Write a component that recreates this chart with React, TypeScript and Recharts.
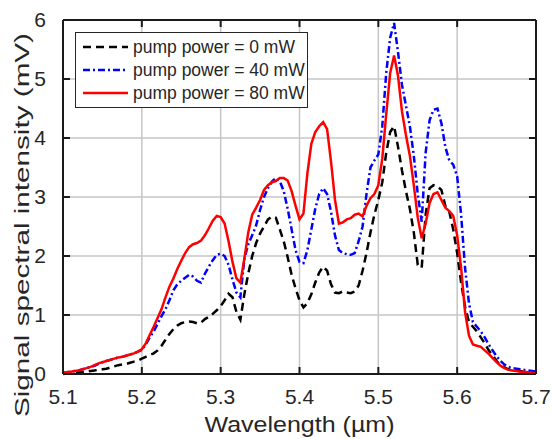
import React from 'react';
import { LineChart, Line, XAxis, YAxis, CartesianGrid, Label } from 'recharts';

const wavelength = [
  5.100, 5.105, 5.110, 5.115, 5.120, 5.125, 5.130, 5.135, 5.140, 5.145,
  5.150, 5.155, 5.160, 5.165, 5.170, 5.175, 5.180, 5.185, 5.190, 5.195,
  5.200, 5.205, 5.210, 5.215, 5.220, 5.225, 5.230, 5.235, 5.240, 5.245,
  5.250, 5.255, 5.260, 5.265, 5.270, 5.275, 5.280, 5.285, 5.290, 5.295,
  5.300, 5.305, 5.310, 5.315, 5.320, 5.325, 5.330, 5.335, 5.340, 5.345,
  5.350, 5.355, 5.360, 5.365, 5.370, 5.375, 5.380, 5.385, 5.390, 5.395,
  5.400, 5.405, 5.410, 5.415, 5.420, 5.425, 5.430, 5.435, 5.440, 5.445,
  5.450, 5.455, 5.460, 5.465, 5.470, 5.475, 5.480, 5.485, 5.490, 5.495,
  5.500, 5.505, 5.510, 5.515, 5.520, 5.525, 5.530, 5.535, 5.540, 5.545,
  5.550, 5.555, 5.560, 5.565, 5.570, 5.575, 5.580, 5.585, 5.590, 5.595,
  5.600, 5.605, 5.610, 5.615, 5.620, 5.625, 5.630, 5.635, 5.640, 5.645,
  5.650, 5.655, 5.660, 5.665, 5.670, 5.675, 5.680, 5.685, 5.690, 5.695,
  5.700,
];

const power0 = [
  0.00, 0.01, 0.01, 0.02, 0.03, 0.03, 0.04, 0.05, 0.06, 0.07,
  0.08, 0.09, 0.11, 0.13, 0.15, 0.16, 0.17, 0.19, 0.21, 0.23,
  0.26, 0.29, 0.32, 0.35, 0.40, 0.48, 0.58, 0.68, 0.76, 0.82,
  0.86, 0.88, 0.89, 0.88, 0.86, 0.87, 0.93, 0.97, 1.02, 1.08,
  1.15, 1.25, 1.36, 1.30, 1.05, 0.92, 1.35, 1.70, 2.00, 2.22,
  2.38, 2.50, 2.62, 2.67, 2.65, 2.45, 2.25, 1.98, 1.68, 1.45,
  1.25, 1.13, 1.20, 1.35, 1.55, 1.72, 1.82, 1.75, 1.52, 1.38,
  1.37, 1.40, 1.38, 1.37, 1.40, 1.50, 1.75, 2.05, 2.40, 2.70,
  2.95, 3.25, 3.75, 4.10, 4.20, 3.85, 3.45, 3.10, 2.80, 2.40,
  1.85, 1.80, 2.70, 3.15, 3.20, 3.18, 3.12, 2.85, 2.75, 2.45,
  2.05, 1.55, 1.14, 0.88, 0.80, 0.72, 0.62, 0.52, 0.40, 0.32,
  0.22, 0.15, 0.11, 0.08, 0.07, 0.06, 0.05, 0.04, 0.03, 0.02,
  0.01,
];

const power40 = [
  0.02, 0.03, 0.04, 0.05, 0.06, 0.08, 0.10, 0.12, 0.14, 0.17,
  0.20, 0.22, 0.24, 0.26, 0.28, 0.29, 0.31, 0.33, 0.35, 0.38,
  0.41, 0.50, 0.62, 0.72, 0.85, 0.98, 1.10, 1.25, 1.42, 1.52,
  1.58, 1.63, 1.68, 1.65, 1.58, 1.55, 1.70, 1.82, 1.93, 2.02,
  2.04, 2.00, 1.85, 1.60, 1.38, 1.30, 1.95, 2.20, 2.35, 2.52,
  2.78, 3.00, 3.15, 3.26, 3.32, 3.27, 3.10, 2.80, 2.45, 2.10,
  1.90, 1.88, 2.10, 2.45, 2.80, 3.05, 3.15, 3.05, 2.75, 2.35,
  2.10, 2.05, 2.03, 2.02, 2.05, 2.25, 2.50, 3.05, 3.50, 3.62,
  3.72, 4.20, 5.10, 5.70, 5.95, 5.45, 4.90, 4.55, 4.20, 3.70,
  3.05, 2.58, 3.75, 4.30, 4.48, 4.50, 4.25, 3.85, 3.62, 3.55,
  3.35, 2.70, 1.80, 1.20, 0.88, 0.80, 0.72, 0.62, 0.50, 0.40,
  0.30, 0.22, 0.16, 0.12, 0.10, 0.09, 0.08, 0.07, 0.06, 0.05,
  0.04,
];

const power80 = [
  0.02, 0.03, 0.04, 0.05, 0.06, 0.08, 0.10, 0.12, 0.15, 0.18,
  0.20, 0.22, 0.24, 0.26, 0.28, 0.29, 0.31, 0.33, 0.35, 0.38,
  0.42, 0.52, 0.66, 0.80, 0.95, 1.10, 1.30, 1.48, 1.62, 1.78,
  1.92, 2.05, 2.15, 2.20, 2.22, 2.26, 2.35, 2.47, 2.60, 2.68,
  2.66, 2.55, 2.25, 1.90, 1.62, 1.55, 1.95, 2.40, 2.70, 2.82,
  2.95, 3.12, 3.20, 3.25, 3.27, 3.32, 3.32, 3.28, 3.10, 2.85,
  2.62, 2.72, 3.40, 3.90, 4.10, 4.20, 4.27, 4.15, 3.60, 2.95,
  2.55, 2.57, 2.62, 2.64, 2.70, 2.72, 2.67, 2.85, 2.98, 3.05,
  3.20, 3.65, 4.40, 5.10, 5.40, 5.05, 4.45, 4.05, 3.70, 3.20,
  2.65, 2.30, 2.55, 2.90, 3.05, 3.08, 2.95, 2.82, 2.76, 2.68,
  2.35, 1.80, 1.05, 0.65, 0.50, 0.48, 0.46, 0.40, 0.34, 0.27,
  0.20, 0.14, 0.10, 0.07, 0.06, 0.05, 0.04, 0.04, 0.03, 0.02,
  0.01,
];

const xTicks = [5.1, 5.2, 5.3, 5.4, 5.5, 5.6, 5.7];
const yTicks = [0, 1, 2, 3, 4, 5, 6];
const xEdges = [5.1, 5.7];
const yEdges = [0, 6];
const seriesNames = ['pump power = 0 mW', 'pump power = 40 mW', 'pump power = 80 mW'];
const xTitle = 'Wavelength (\u00b5m)';
const yTitle = 'Signal spectral intensity (mV)';

const data = wavelength.map((w, i) => ({ w, p0: power0[i], p40: power40[i], p80: power80[i] }));

const FONT = '"Liberation Sans", Arial, Helvetica, sans-serif';
const TXT = '#262626';
const AX = '#1a1a1a';
const GRID = '#c6c6c6';

// layout
const W = 553;
const H = 439;
const M_TOP = 20;
const M_RIGHT = 17;
const Y_AXIS_W = 63;
const X_AXIS_H = 65;
const PLOT_W = W - M_RIGHT - Y_AXIS_W;
const PLOT_H = H - M_TOP - X_AXIS_H;
const TICK = 7;

const seriesStyle = [
  { key: 'p0', color: '#000000', dash: '8 5' },
  { key: 'p40', color: '#0000ff', dash: '7 3 2 3' },
  { key: 'p80', color: '#ff0000', dash: undefined as string | undefined },
];

const BottomTick = (props: any) => {
  const { x, y, payload } = props;
  return (
    <g>
      <line x1={x} y1={y} x2={x} y2={y - TICK} stroke={AX} strokeWidth={2} />
      <line x1={x} y1={y - PLOT_H} x2={x} y2={y - PLOT_H + TICK} stroke={AX} strokeWidth={2} />
      <text x={x} y={y + 30} textAnchor="middle" fontSize={21} fill={TXT} fontFamily={FONT}>
        {Number(payload.value).toFixed(1)}
      </text>
    </g>
  );
};

const LeftTick = (props: any) => {
  const { x, y, payload } = props;
  return (
    <g>
      <line x1={x} y1={y} x2={x + TICK} y2={y} stroke={AX} strokeWidth={2} />
      <line x1={x + PLOT_W} y1={y} x2={x + PLOT_W - TICK} y2={y} stroke={AX} strokeWidth={2} />
      <text x={x - 17} y={y + 7} textAnchor="end" fontSize={21} fill={TXT} fontFamily={FONT}>
        {payload.value}
      </text>
    </g>
  );
};

const XTitle = (props: any) => {
  const vb = props.viewBox;
  return (
    <text
      x={vb.x + vb.width / 2}
      y={vb.y + 58}
      textAnchor="middle"
      fontSize={22}
      fill={TXT}
      fontFamily={FONT}
      textLength={190}
      lengthAdjust="spacingAndGlyphs"
    >
      {xTitle}
    </text>
  );
};

const YTitle = (props: any) => {
  const vb = props.viewBox;
  const cx = vb.x + 29;
  const cy = vb.y + vb.height / 2 + 28;
  return (
    <text
      x={cx}
      y={cy}
      transform={`rotate(-90, ${cx}, ${cy})`}
      textAnchor="middle"
      fontSize={21}
      fill={TXT}
      fontFamily={FONT}
      textLength={384}
      lengthAdjust="spacingAndGlyphs"
    >
      {yTitle}
    </text>
  );
};

const LegendBox = () => (
  <div
    style={{
      position: 'absolute',
      left: 75,
      top: 32,
      width: 233,
      height: 76,
      border: '1px solid #262626',
      background: '#ffffff',
      boxSizing: 'border-box',
    }}
  >
    <svg width={231} height={74} style={{ display: 'block' }}>
      {seriesStyle.map((s, i) => {
        const cy = 14 + i * 23;
        return (
          <g key={s.key}>
            <line x1={7} x2={52} y1={cy} y2={cy} stroke={s.color} strokeWidth={2.5} strokeDasharray={s.dash} />
            <text x={57} y={cy + 6} fontSize={17.5} fill={TXT} fontFamily={FONT}>
              {seriesNames[i]}
            </text>
          </g>
        );
      })}
    </svg>
  </div>
);

export default function App() {
  return (
    <div style={{ position: 'absolute', left: 0, top: 0, width: W, height: H, background: '#fff', fontFamily: FONT }}>
      <LineChart width={W} height={H} data={data} margin={{ top: M_TOP, right: M_RIGHT, bottom: 0, left: 0 }}>
        <CartesianGrid stroke={GRID} strokeWidth={1.5} verticalValues={xTicks} horizontalValues={yTicks} />
        <CartesianGrid stroke={AX} strokeWidth={2} verticalValues={xEdges} horizontalValues={yEdges} />
        <XAxis
          dataKey="w"
          type="number"
          domain={[5.1, 5.7]}
          ticks={xTicks}
          height={X_AXIS_H}
          tickSize={0}
          tickMargin={0}
          tickLine={false}
          tick={<BottomTick />}
          axisLine={{ stroke: AX, strokeWidth: 2 }}
          interval={0}
        >
          <Label content={<XTitle />} />
        </XAxis>
        <YAxis
          type="number"
          domain={[0, 6]}
          ticks={yTicks}
          width={Y_AXIS_W}
          tickSize={0}
          tickMargin={0}
          tickLine={false}
          tick={<LeftTick />}
          axisLine={{ stroke: AX, strokeWidth: 2 }}
          interval={0}
        >
          <Label content={<YTitle />} />
        </YAxis>
        {seriesStyle.map((s, i) => (
          <Line
            key={s.key}
            dataKey={s.key}
            name={seriesNames[i]}
            type="linear"
            stroke={s.color}
            strokeWidth={2.5}
            strokeDasharray={s.dash}
            dot={false}
            activeDot={false}
            isAnimationActive={false}
          />
        ))}
      </LineChart>
      <LegendBox />
    </div>
  );
}
